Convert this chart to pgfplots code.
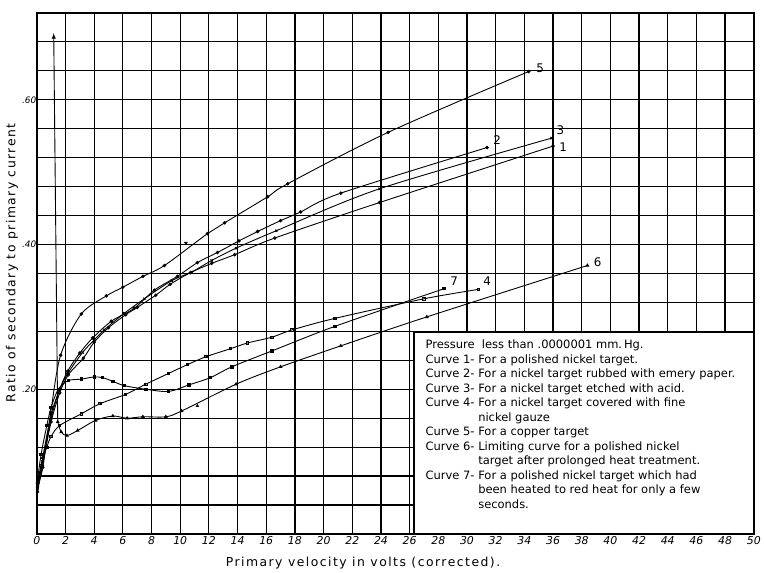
\documentclass[border=0pt]{standalone}
\usepackage{fontspec}
\setmainfont{DejaVu Sans}
\usepackage{pgfplots}
\pgfplotsset{compat=1.18}
\begin{document}
\begin{tikzpicture}
\begin{axis}[
  scale only axis, width=721bp, height=524bp,
  at={(0,0)}, anchor=south west,
  xmin=0, xmax=50, ymin=0, ymax=0.72,
  xtick={0,2,...,50},
  ytick={0.04,0.08,0.12,0.16,0.20,0.24,0.28,0.32,0.36,0.40,0.44,0.48,0.52,0.56,0.60,0.64,0.68},
  yticklabels={,,,,.20,,,,,.40,,,,,.60,,},
  major tick length=0pt,
  grid=major,
  grid style={black, line width=1.25pt},
  axis line style={black, line width=1.5pt},
  /pgf/number format/assume math mode=true,
  xticklabel style={font=\itshape\fontsize{11}{12}\selectfont, yshift=1pt},
  yticklabel style={font=\itshape\fontsize{9}{10}\selectfont, xshift=3pt},
  xlabel={Primary velocity in volts (corrected).},
  xlabel style={font=\fontsize{12.5}{14}\selectfont\addfontfeature{LetterSpace=12}, at={(axis description cs:0.455,-0.0375)}, anchor=north},
  ylabel={Ratio of secondary to primary current},
  ylabel style={font=\fontsize{12.5}{14}\selectfont\addfontfeature{LetterSpace=12}, at={(axis description cs:-0.0345,0.52)}, anchor=center},
  every axis plot/.append style={black, line width=0.9pt, mark size=1.3pt},
  clip=false,
]
% Curve 5 - copper target
\addplot[smooth, tension=0.5, mark=*] coordinates {
 (0.05,0.065) (0.42,0.092) (0.97,0.168) (1.66,0.247) (3.1,0.304) (4.85,0.329) (6.0,0.341)
 (7.4,0.356) (8.9,0.371) (11.9,0.415) (13.1,0.430) (16.1,0.466) (17.5,0.484) (24.5,0.555) (34.3,0.639)};
\addplot[only marks, mark=triangle, mark options={rotate=180}] coordinates {(10.4,0.402)};
% Curve 2 - emery paper
\addplot[smooth, tension=0.5, mark=*] coordinates {
 (0.05,0.070) (0.4,0.105) (1.0,0.165) (1.6,0.200) (2.15,0.225) (3.0,0.250) (3.9,0.271) (5.2,0.294)
 (6.8,0.312) (8.2,0.337) (9.8,0.356) (11.2,0.375) (12.6,0.389) (14.1,0.405) (15.4,0.418)
 (17.0,0.433) (18.4,0.445) (21.2,0.471) (31.4,0.534)};
% Curve 3 - etched with acid
\addplot[smooth, tension=0.5, mark=x, mark size=1.6pt] coordinates {
 (0.05,0.062) (0.4,0.100) (1.0,0.160) (1.6,0.200) (2.2,0.223) (3.2,0.251) (4.0,0.268) (4.7,0.282)
 (6.1,0.305) (7.5,0.325) (9.4,0.350) (10.8,0.362) (12.2,0.378) (13.9,0.395) (16.7,0.419)
 (23.9,0.477) (35.9,0.547)};
% Curve 1 - polished nickel
\addplot[smooth, tension=0.5, mark=o] coordinates {
 (0.05,0.058) (0.4,0.095) (1.0,0.155) (1.6,0.195) (2.2,0.220) (3.25,0.243) (4.0,0.265) (5.0,0.285)
 (6.2,0.303) (7.0,0.313) (8.3,0.330) (9.3,0.345) (10.7,0.361) (12.2,0.374) (13.8,0.386)
 (16.6,0.409) (23.9,0.458) (36.0,0.536)};
% Curve 4 - nickel gauze
\addplot[smooth, tension=0.5, mark=square, mark size=1.2pt] coordinates {
 (0.05,0.066) (0.3,0.095) (0.7,0.120) (1.0,0.135) (1.6,0.150) (3.1,0.166) (4.4,0.180) (6.2,0.193)
 (7.6,0.207) (9.2,0.222) (10.5,0.234) (11.8,0.245) (13.5,0.256) (14.7,0.264) (16.4,0.272)
 (17.8,0.282) (20.8,0.298) (27.0,0.325) (30.8,0.338)};
% Curve 7 - heated to red heat
\addplot[smooth, tension=0.5, mark=square*, mark size=1.2pt] coordinates {
 (0.05,0.075) (0.3,0.110) (0.7,0.150) (1.0,0.175) (1.5,0.200) (2.2,0.212) (3.1,0.214) (4.0,0.217)
 (4.6,0.216) (5.3,0.211) (6.1,0.205) (7.6,0.200) (9.2,0.197) (10.6,0.206) (12.1,0.216)
 (13.6,0.231) (16.4,0.253) (20.8,0.287) (28.4,0.339)};
% Curve 6 - limiting curve
\addplot[-latex, no marks] coordinates {(1.46,0.155) (1.18,0.692)};
\addplot[smooth, tension=0.5, mark=triangle*, mark size=1.4pt] coordinates {
 (1.46,0.155) (1.7,0.141) (2.1,0.136) (2.85,0.143) (4.1,0.157) (5.3,0.163) (6.3,0.160)
 (7.4,0.162) (9.0,0.162) (10.1,0.170) (13.9,0.207) (17.0,0.231) (21.2,0.260) (27.2,0.300) (38.4,0.371)};
\addplot[only marks, mark=triangle] coordinates {(11.2,0.177)};

\node[anchor=west, font=\fontsize{12}{13}\selectfont] at (axis cs:34.6,0.644) {5};
\node[anchor=west, font=\fontsize{12}{13}\selectfont] at (axis cs:31.6,0.544) {2};
\node[anchor=west, font=\fontsize{12}{13}\selectfont] at (axis cs:36.0,0.558) {3};
\node[anchor=west, font=\fontsize{12}{13}\selectfont] at (axis cs:36.2,0.535) {1};
\node[anchor=west, font=\fontsize{12}{13}\selectfont] at (axis cs:28.6,0.349) {7};
\node[anchor=west, font=\fontsize{12}{13}\selectfont] at (axis cs:30.9,0.349) {4};
\node[anchor=west, font=\fontsize{12}{13}\selectfont] at (axis cs:38.6,0.376) {6};

\draw[black, line width=1.3pt, fill=white] (axis cs:26.3,0) rectangle (axis cs:50,0.278);
\node[anchor=north west, align=left, inner sep=0pt,
      font=\fontsize{11.6}{14.6}\selectfont]
  at (axis cs:27.1,0.268) {%
  Pressure \ less than .0000001 mm.\,Hg.\\
  Curve 1- For a polished nickel target.\\
  Curve 2- For a nickel target rubbed with emery paper.\\
  Curve 3- For a nickel target etched with acid.\\
  Curve 4- For a nickel target covered with fine\\
  \hphantom{Curve 4- }nickel gauze\\
  Curve 5- For a copper target\\
  Curve 6- Limiting curve for a polished nickel\\
  \hphantom{Curve 6- }target after prolonged heat treatment.\\
  Curve 7- For a polished nickel target which had\\
  \hphantom{Curve 7- }been heated to red heat for only a few\\
  \hphantom{Curve 7- }seconds.};
\end{axis}
\path[use as bounding box] (-37bp,-30bp) rectangle (727bp,537bp);
\end{tikzpicture}
\end{document}
